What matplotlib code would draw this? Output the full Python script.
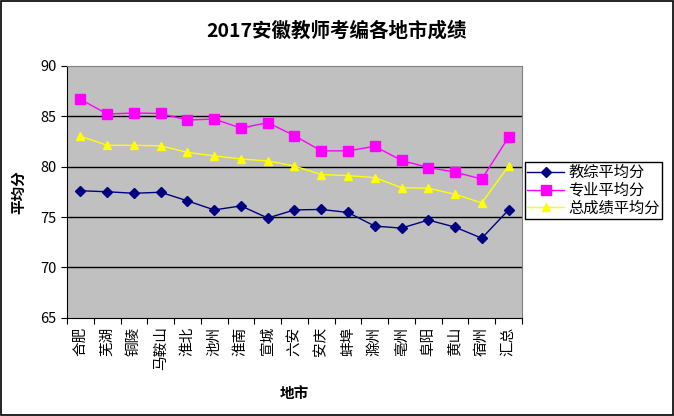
import numpy as np
import matplotlib.pyplot as plt
from matplotlib.patches import Rectangle

plt.rcParams['font.family'] = ['Noto Sans CJK SC', 'DejaVu Sans']

cities = ['合肥', '芜湖', '铜陵', '马鞍山', '淮北', '池州', '淮南', '宣城', '六安',
          '安庆', '蚌埠', '滁州', '亳州', '阜阳', '黄山', '宿州', '汇总']
jiaozong = [77.6, 77.5, 77.35, 77.45, 76.6, 75.7, 76.1, 74.9, 75.7,
            75.75, 75.45, 74.1, 73.9, 74.7, 74.0, 72.9, 75.7]
zhuanye = [86.65, 85.2, 85.3, 85.25, 84.6, 84.7, 83.8, 84.35, 83.05,
           81.55, 81.55, 82.0, 80.6, 79.9, 79.45, 78.75, 82.9]
zong = [83.0, 82.1, 82.1, 82.05, 81.4, 81.05, 80.75, 80.55, 80.05,
        79.2, 79.1, 78.9, 77.9, 77.85, 77.25, 76.4, 80.05]
yticks = [65, 70, 75, 80, 85, 90]

fig = plt.figure(figsize=(6.74, 4.16), dpi=100)
fig.patches.append(Rectangle((0.001, 0.002), 0.997, 0.995, transform=fig.transFigure,
                             fill=False, edgecolor='black', linewidth=1.2))
ax = fig.add_axes([0.0994, 0.2356, 0.675, 0.6069])
ax.set_facecolor('#C0C0C0')

x = np.arange(len(cities))
ax.plot(x, jiaozong, color='#000080', marker='D', markersize=5, linewidth=1, label='教综平均分')
ax.plot(x, zhuanye, color='#FF00FF', marker='s', markersize=7, linewidth=1, label='专业平均分')
ax.plot(x, zong, color='#FFFF00', marker='^', markersize=6, linewidth=1, label='总成绩平均分')

ax.set_xlim(-0.5, len(cities) - 0.5)
ax.set_ylim(65, 90)
ax.set_yticks(yticks)
for v in yticks[1:-1]:
    ax.axhline(v, color='black', linewidth=1, zorder=0.5)

ax.set_xticks(np.arange(len(cities) + 1) - 0.5)
ax.set_xticklabels([])
ax.set_xticks(x, minor=True)
ax.set_xticklabels(cities, minor=True, fontsize=10.5, rotation=90, va='top')
ax.tick_params(axis='x', which='minor', length=0, pad=6)
ax.tick_params(axis='x', which='major', length=4, direction='out')
ax.tick_params(axis='y', length=4, direction='out', labelsize=10.5)

for s in ['top', 'right']:
    ax.spines[s].set_color('#808080')
ax.spines['left'].set_color('black')
ax.spines['bottom'].set_color('black')

ax.set_ylabel('平均分', fontsize=10.5, fontweight='bold')
ax.yaxis.set_label_coords(-0.108, 0.5)
ax.set_xlabel('地市', fontsize=10.5, fontweight='bold')
ax.xaxis.set_label_coords(0.5, -0.296)
ax.xaxis.label.set_va('center')
ax.yaxis.label.set_va('center')
fig.suptitle('2017安徽教师考编各地市成绩', fontsize=14, fontweight='bold', y=0.95)

leg = fig.legend(loc='upper left', bbox_to_anchor=(0.779, 0.611), fontsize=11,
                 frameon=True, fancybox=False, edgecolor='black', framealpha=1,
                 borderpad=0.15, labelspacing=0.05, handlelength=2.4, handletextpad=0.3,
                 borderaxespad=0)
leg.get_frame().set_linewidth(1)

fig.savefig('out.png', dpi=100)
